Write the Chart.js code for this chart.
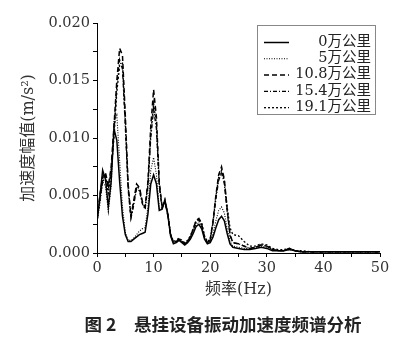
<!DOCTYPE html>
<html>
<head>
<meta charset="utf-8">
<script src="https://cdn.jsdelivr.net/npm/chart.js@4.4.1/dist/chart.umd.min.js"></script>
<style>
  html, body { margin: 0; padding: 0; background: #fff; }
  #wrap { width: 419px; height: 353px; }
</style>
</head>
<body>
<div id="wrap"><canvas id="spectrum"></canvas></div>
<script>
// frequency axis (Hz)
const freq = [0, 0.5, 1, 1.5, 2, 2.5, 3, 3.5, 4, 4.5, 5, 5.5, 6, 6.5, 7, 7.5, 8, 8.5, 9, 9.5,
  10, 10.5, 11, 11.5, 12, 12.5, 13, 13.5, 14, 14.5, 15, 15.5, 16, 16.5, 17, 17.5, 18, 18.5, 19, 19.5,
  20, 20.5, 21, 21.5, 22, 22.5, 23, 23.5, 24, 25, 26, 27, 28, 29, 30, 31, 32, 33, 34, 35, 36,
  38, 40, 42, 44, 46, 48, 50];

// acceleration amplitude (m/s^2)
const km0 = [0.0027, 0.0048, 0.0072, 0.0064, 0.0040, 0.0062, 0.0108, 0.0098, 0.0062, 0.0032,
  0.0016, 0.0010, 0.0010, 0.0012, 0.0014, 0.0016, 0.0017, 0.0018, 0.0034, 0.0060,
  0.0068, 0.0060, 0.0037, 0.0038, 0.0046, 0.0034, 0.0015, 0.0008, 0.0009, 0.0011,
  0.0009, 0.0007, 0.0009, 0.0012, 0.0017, 0.0023, 0.0025, 0.0021, 0.0012, 0.0008,
  0.0009, 0.0014, 0.0022, 0.0029, 0.0032, 0.0028, 0.0017, 0.0008, 0.0005, 0.0004,
  0.0003, 0.0003, 0.0004, 0.0005, 0.0004, 0.0002, 0.0002, 0.0002, 0.0003, 0.0002,
  0.0001, 0.0001, 0.0001, 0.0001, 0.0001, 0.0001, 0.0001, 0.0001];
const km5 = [0.0026, 0.0042, 0.0062, 0.0058, 0.0036, 0.0058, 0.0115, 0.0120, 0.0080, 0.0040,
  0.0018, 0.0011, 0.0011, 0.0013, 0.0016, 0.0019, 0.0021, 0.0022, 0.0040, 0.0072,
  0.0083, 0.0068, 0.0039, 0.0039, 0.0047, 0.0035, 0.0016, 0.0009, 0.0010, 0.0012,
  0.0010, 0.0008, 0.0010, 0.0013, 0.0019, 0.0025, 0.0027, 0.0023, 0.0013, 0.0009,
  0.0010, 0.0017, 0.0028, 0.0037, 0.0040, 0.0035, 0.0021, 0.0010, 0.0006, 0.0005,
  0.0004, 0.0004, 0.0005, 0.0006, 0.0005, 0.0003, 0.0002, 0.0002, 0.0003, 0.0002,
  0.0001, 0.0001, 0.0001, 0.0001, 0.0001, 0.0001, 0.0001, 0.0001];
const km108 = [0.0030, 0.0050, 0.0066, 0.0070, 0.0058, 0.0075, 0.0110, 0.0150, 0.0178, 0.0172,
  0.0120, 0.0060, 0.0032, 0.0046, 0.0060, 0.0057, 0.0045, 0.0040, 0.0062, 0.0110,
  0.0142, 0.0118, 0.0062, 0.0040, 0.0045, 0.0033, 0.0016, 0.0009, 0.0010, 0.0012,
  0.0010, 0.0008, 0.0010, 0.0014, 0.0021, 0.0028, 0.0030, 0.0025, 0.0014, 0.0009,
  0.0012, 0.0028, 0.0050, 0.0068, 0.0075, 0.0064, 0.0038, 0.0016, 0.0009, 0.0008,
  0.0006, 0.0004, 0.0005, 0.0007, 0.0006, 0.0003, 0.0002, 0.0002, 0.0004, 0.0002,
  0.0001, 0.0001, 0.0001, 0.0001, 0.0001, 0.0001, 0.0001, 0.0001];
const km154 = [0.0029, 0.0047, 0.0064, 0.0068, 0.0055, 0.0072, 0.0105, 0.0145, 0.0168, 0.0160,
  0.0110, 0.0055, 0.0030, 0.0042, 0.0056, 0.0054, 0.0043, 0.0038, 0.0058, 0.0100,
  0.0125, 0.0108, 0.0058, 0.0039, 0.0044, 0.0033, 0.0016, 0.0009, 0.0010, 0.0012,
  0.0010, 0.0008, 0.0010, 0.0014, 0.0020, 0.0027, 0.0029, 0.0024, 0.0013, 0.0009,
  0.0011, 0.0026, 0.0047, 0.0063, 0.0070, 0.0060, 0.0036, 0.0015, 0.0009, 0.0008,
  0.0006, 0.0004, 0.0005, 0.0007, 0.0006, 0.0003, 0.0002, 0.0002, 0.0004, 0.0002,
  0.0001, 0.0001, 0.0001, 0.0001, 0.0001, 0.0001, 0.0001, 0.0001];
const km191 = [0.0028, 0.0046, 0.0062, 0.0066, 0.0052, 0.0070, 0.0100, 0.0140, 0.0163, 0.0165,
  0.0115, 0.0058, 0.0031, 0.0044, 0.0058, 0.0056, 0.0044, 0.0039, 0.0060, 0.0104,
  0.0130, 0.0112, 0.0060, 0.0040, 0.0045, 0.0034, 0.0017, 0.0010, 0.0011, 0.0013,
  0.0011, 0.0009, 0.0011, 0.0015, 0.0021, 0.0028, 0.0030, 0.0026, 0.0015, 0.0010,
  0.0012, 0.0027, 0.0049, 0.0066, 0.0072, 0.0063, 0.0040, 0.0022, 0.0016, 0.0015,
  0.0010, 0.0006, 0.0006, 0.0008, 0.0007, 0.0004, 0.0003, 0.0003, 0.0004, 0.0002,
  0.0002, 0.0001, 0.0001, 0.0001, 0.0001, 0.0001, 0.0001, 0.0001];

const seriesNames = ["0万公里", "5万公里", "10.8万公里", "15.4万公里", "19.1万公里"];
const seriesValues = [km0, km5, km108, km154, km191];
const seriesDash = [[], [1, 1.5], [5, 3], [4, 2, 1, 2], [2, 2]];
const seriesWidth = [1.5, 1.1, 1.5, 1.3, 1.3];

const xTitle = "频率(Hz)";
const yTitle = "加速度幅值(m/s²)";
const caption = "图 2　悬挂设备振动加速度频谱分析";

const serif = '"DejaVu Serif", "Noto Sans CJK SC", serif';

// legend box + figure caption
const extras = {
  id: "extras",
  afterDraw(chart) {
    const ctx = chart.ctx;
    ctx.save();
    const bx = 257, by = 25, bw = 118, bh = 89;
    ctx.strokeStyle = "#888";
    ctx.lineWidth = 1;
    ctx.strokeRect(bx + 0.5, by + 0.5, bw, bh);
    ctx.font = "14.5px " + serif;
    ctx.fillStyle = "#222";
    ctx.textAlign = "right";
    ctx.textBaseline = "middle";
    chart.data.datasets.forEach((ds, i) => {
      const y = 42 + i * 16.3;
      ctx.beginPath();
      ctx.setLineDash(ds.borderDash);
      ctx.lineWidth = ds.borderWidth;
      ctx.strokeStyle = "#000";
      ctx.moveTo(264, y + 0.5);
      ctx.lineTo(289, y + 0.5);
      ctx.stroke();
      ctx.setLineDash([]);
      ctx.fillText(ds.label, 371, y);
    });
    ctx.font = 'bold 17.5px "Noto Sans CJK SC", sans-serif';
    ctx.textAlign = "center";
    ctx.fillStyle = "#222";
    ctx.fillText(caption, 223, 324);
    ctx.restore();
  }
};

new Chart(document.getElementById("spectrum"), {
  type: "line",
  data: {
    datasets: seriesValues.map((vals, i) => ({
      label: seriesNames[i],
      data: freq.map((f, j) => ({ x: f, y: vals[j] })),
      borderColor: "#000",
      borderWidth: seriesWidth[i],
      borderDash: seriesDash[i],
      pointRadius: 0,
      tension: 0,
      fill: false,
    })),
  },
  options: {
    responsive: true,
    maintainAspectRatio: false,
    animation: false,
    layout: { padding: { left: 0, right: 39, top: 23, bottom: 50 } },
    plugins: { legend: { display: false }, tooltip: { enabled: false } },
    scales: {
      x: {
        type: "linear",
        min: 0,
        max: 50,
        afterFit: (s) => { s.height = 50; },
        border: { display: true, color: "#000", width: 1 },
        grid: { drawOnChartArea: false, drawTicks: true, tickLength: 4, color: "#000" },
        ticks: {
          stepSize: 5,
          color: "#333",
          padding: 3,
          maxRotation: 0,
          font: { family: serif, size: 14.5 },
          callback: (v) => (v % 10 === 0 ? v : ""),
        },
        title: {
          display: true,
          text: xTitle,
          color: "#333",
          padding: { top: 0 },
          font: { family: serif, size: 16 },
        },
      },
      y: {
        min: 0,
        max: 0.02,
        afterFit: (s) => { s.width = 97; },
        border: { display: true, color: "#000", width: 1 },
        grid: { drawOnChartArea: false, drawTicks: true, tickLength: 4, color: "#000" },
        ticks: {
          stepSize: 0.0025,
          color: "#333",
          padding: 3,
          font: { family: serif, size: 14.5 },
          callback: (v) => (Math.round(v * 10000) % 50 === 0 ? v.toFixed(3) : ""),
        },
        title: {
          display: true,
          text: yTitle,
          color: "#333",
          padding: { top: 19, bottom: 0 },
          font: { family: serif, size: 16 },
        },
      },
    },
  },
  plugins: [extras],
});
</script>
</body>
</html>
